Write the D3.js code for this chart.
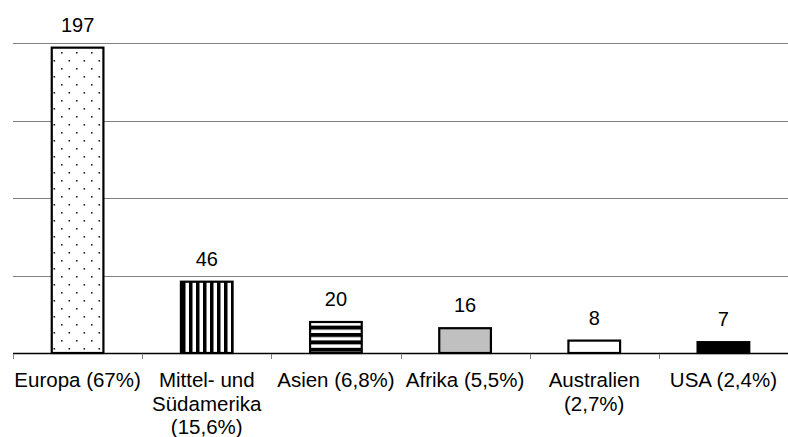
<!DOCTYPE html>
<html><head><meta charset="utf-8">
<script src="https://cdn.jsdelivr.net/npm/d3@7"></script>
<style>body{margin:0;background:#fff}svg{display:block}text{font-family:"Liberation Sans",Arial,sans-serif;fill:#000}</style>
</head><body>
<svg id="c" width="788" height="437"></svg>
<script>
const categories = ["Europa (67%)", "Mittel- und\nSüdamerika\n(15,6%)", "Asien (6,8%)", "Afrika (5,5%)", "Australien\n(2,7%)", "USA (2,4%)"];
const values = [197, 46, 20, 16, 8, 7];
const fills = ["url(#dots)", "url(#vstripes)", "url(#hstripes)", "#c0c0c0", "#ffffff", "#000000"];
const yTicks = [0, 50, 100, 150, 200];

const svg = d3.select("#c");
const m = {l: 13, r: 0, t: 43, b: 84};
const W = 788, H = 437;
const x = d3.scaleBand().domain(categories).range([m.l, W - m.r]).paddingInner(0).paddingOuter(0);
const y = d3.scaleLinear().domain([0, 200]).range([H - m.b, m.t]);

const defs = svg.append("defs");
const pd = defs.append("pattern").attr("id","dots").attr("patternUnits","userSpaceOnUse").attr("width",15).attr("height",16);
pd.append("rect").attr("width",15).attr("height",16).attr("fill","#fff");
pd.append("rect").attr("x",1).attr("y",4).attr("width",1.6).attr("height",1.6).attr("fill","#222");
pd.append("rect").attr("x",8.5).attr("y",12).attr("width",1.6).attr("height",1.6).attr("fill","#222");
const pv = defs.append("pattern").attr("id","vstripes").attr("patternUnits","userSpaceOnUse").attr("width",7).attr("height",10).attr("x",0);
pv.append("rect").attr("width",7).attr("height",10).attr("fill","#fff");
pv.append("rect").attr("x",0).attr("width",3.5).attr("height",10).attr("fill","#000");
const ph = defs.append("pattern").attr("id","hstripes").attr("patternUnits","userSpaceOnUse").attr("width",10).attr("height",7.4);
ph.append("rect").attr("width",10).attr("height",7.4).attr("fill","#fff");
ph.append("rect").attr("y",0).attr("width",10).attr("height",4).attr("fill","#000");

// gridlines
svg.append("g").selectAll("line").data(yTicks.filter(d => d > 0)).join("line")
  .attr("x1", m.l).attr("x2", W - m.r)
  .attr("y1", d => Math.round(y(d)) + 0.5).attr("y2", d => Math.round(y(d)) + 0.5)
  .attr("stroke", "#808080").attr("stroke-width", 1);

// bars
const bw = x.bandwidth() * 0.4;
svg.append("g").selectAll("rect").data(values).join("rect")
  .attr("x", (d, i) => x(categories[i]) + (x.bandwidth() - bw) / 2)
  .attr("y", d => y(d))
  .attr("width", bw)
  .attr("height", d => y(0) - y(d))
  .attr("fill", (d, i) => fills[i])
  .attr("stroke", "#000").attr("stroke-width", 2.2);

// x axis
const ax = svg.append("g").attr("transform", `translate(0,${y(0)})`);
ax.append("line").attr("x1", m.l).attr("x2", W).attr("y1", 0.5).attr("y2", 0.5).attr("stroke", "#000").attr("stroke-width", 1.5);
const tickX = categories.map(c => x(c)).concat([W]);
ax.selectAll("line.t").data(tickX).join("line").attr("class","t")
  .attr("x1", d => Math.round(d) + 0.5).attr("x2", d => Math.round(d) + 0.5)
  .attr("y1", 1).attr("y2", 6).attr("stroke", "#808080");

// category labels
categories.forEach((c, i) => {
  const lines = c.split("\n");
  const t = svg.append("text").attr("text-anchor","middle").attr("font-size", 20.5)
    .attr("x", x(c) + x.bandwidth() / 2).attr("y", 387);
  lines.forEach((l, j) => t.append("tspan").attr("x", x(c) + x.bandwidth() / 2).attr("dy", j ? 23.5 : 0).text(l));
});

// value labels
svg.append("g").selectAll("text").data(values).join("text")
  .attr("text-anchor","middle").attr("font-size", 20)
  .attr("x", (d, i) => x(categories[i]) + x.bandwidth() / 2)
  .attr("y", d => y(d) - 16)
  .text(d => d);
</script>
</body></html>
